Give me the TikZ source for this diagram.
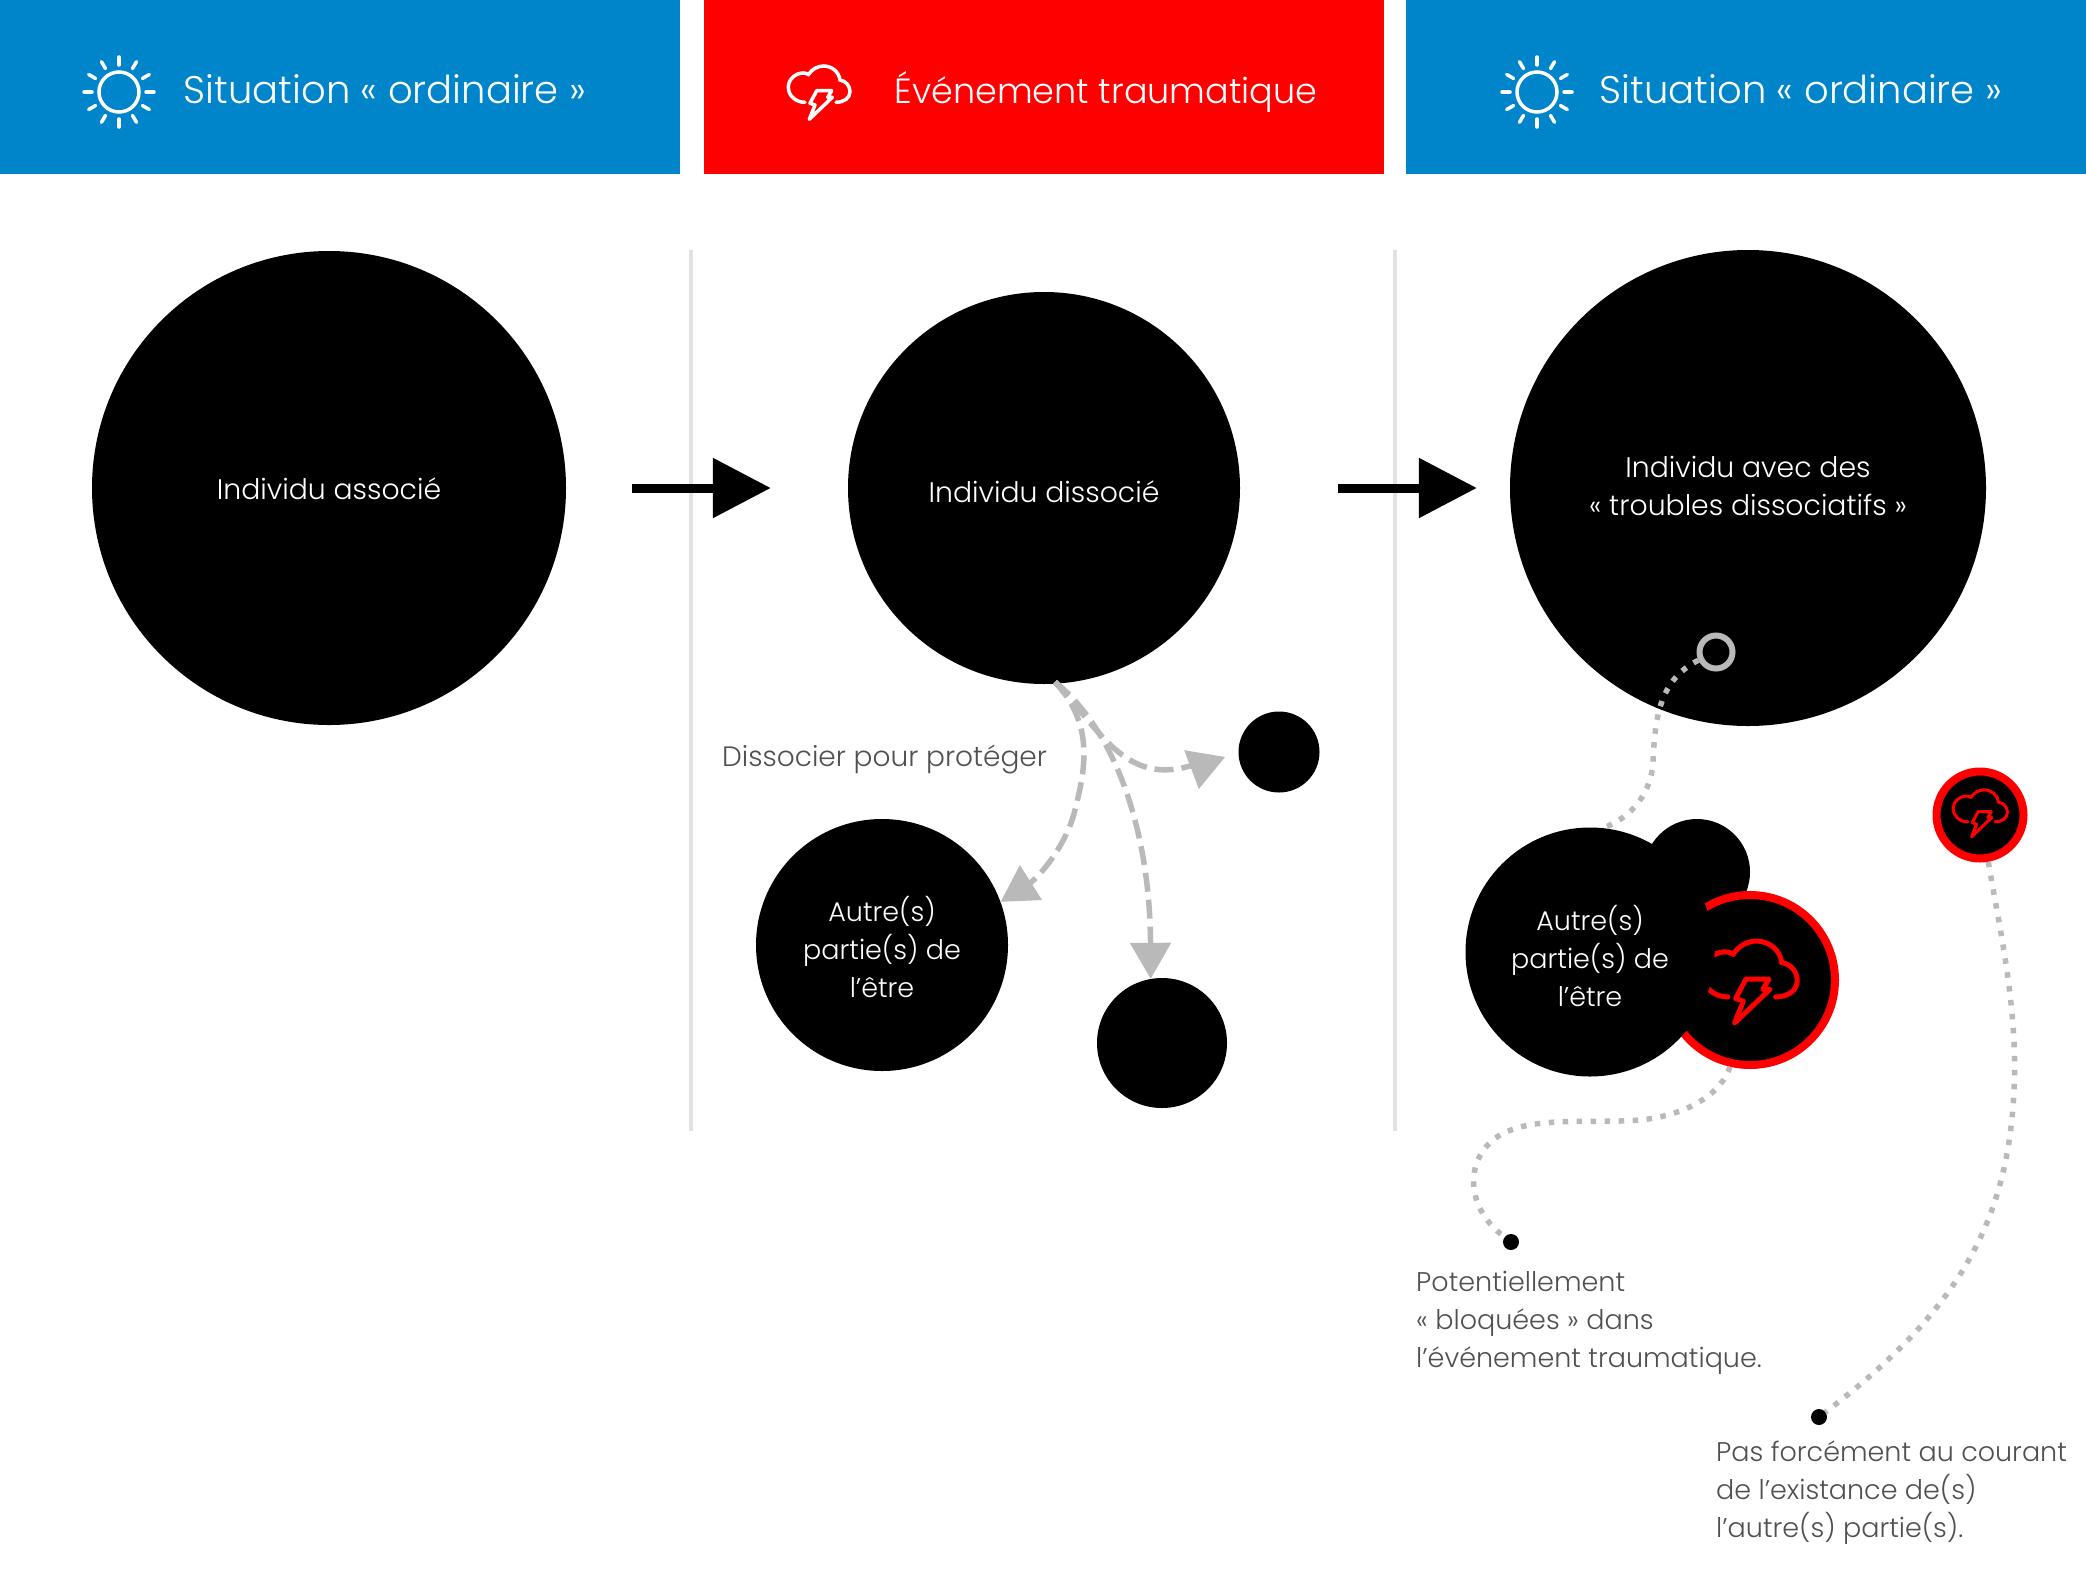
\documentclass[tikz,border=0pt]{standalone}
\usepackage{fontspec}
\setmainfont{Poppins Light}
\usetikzlibrary{positioning, arrows.meta}
\definecolor{headblue}{HTML}{0084CA}
\definecolor{softgray}{HTML}{B9B9B9}
\definecolor{rulegray}{HTML}{E2E2E2}
\definecolor{textgray}{HTML}{505050}

\begin{document}
\begin{tikzpicture}[
    x=1pt, y=-1pt,
    header/.style={
        rectangle,
        anchor=north west,
        inner sep=0pt,
        minimum width=680pt,
        minimum height=174pt
    },
    headtext/.style={
        text=white,
        font=\fontsize{38.5}{46}\selectfont
    },
    disc/.style={
        circle,
        fill=black,
        inner sep=0pt,
        text=white,
        align=center,
        font=\fontsize{27}{38}\selectfont
    },
    disctext/.style={
        text=white,
        align=center,
        inner sep=0pt,
        font=\fontsize{28.3}{38}\selectfont
    },
    note/.style={
        text=textgray,
        align=left,
        anchor=west,
        inner sep=0pt,
        font=\fontsize{27}{38}\selectfont
    },
    divider/.style={
        rulegray,
        line width=4pt
    },
    bigarrow/.style={
        -{Triangle[length=58pt,width=58pt]},
        line width=9pt
    },
    dasharrow/.style={
        -{Triangle[length=36pt,width=40pt]},
        softgray,
        line width=5.5pt,
        dash pattern=on 19pt off 8pt
    },
    dotline/.style={
        softgray,
        line width=5.5pt,
        dash pattern=on 5.5pt off 8.5pt
    },
    dotend/.style={
        circle,
        fill=black,
        inner sep=0pt,
        minimum size=16pt
    },
    sun/.pic={
        \draw[line width=3.5pt] (0,0) circle (20pt);
        \foreach \a in {0,30,...,330}
            \draw[line width=3.5pt, line cap=round] (\a:27) -- (\a:35);
    },
    storm/.pic={
        \draw[line cap=round] (-15,12.3) .. controls (-24,12.3) and (-31.7,6) .. (-31.7,-3)
            .. controls (-31.7,-11) and (-24,-17) .. (-17,-17)
            .. controls (-15,-17) and (-13,-16.5) .. (-11.5,-15.5)
            .. controls (-8,-21) and (-2,-24) .. (3.5,-24)
            .. controls (12,-24) and (19,-18) .. (20,-10)
            .. controls (26,-9) and (30,-4) .. (30,1.7)
            .. controls (30,8) and (24,12.3) .. (16,12.3);
        \draw[line join=round] (-3.3,0.7) -- (11.7,0.7) -- (7.7,7.3) -- (12.3,7.3)
            -- (-10.7,29.3) -- (-5,15) -- (-10,13.3) -- cycle;
    }
]
\useasboundingbox (0,0) rectangle (2086,1580);

% banners
\node[header, fill=headblue] (headleft) at (0,0) {};
\node[header, fill=red] (headmid) at (704,0) {};
\node[header, fill=headblue] (headright) at (1406,0) {};

\node[headtext] (titleleft) at (385,89) {Situation « ordinaire »};
\node[headtext, font=\fontsize{35}{42}\selectfont] (titlemid) at (1106,92) {Événement traumatique};
\node[headtext] (titleright) at (1801,89) {Situation « ordinaire »};

\pic[white] at (119,92) {sun};
\pic[white] at (1537,92) {sun};
\pic[white, line width=3.5pt] at (820,90) {storm};

% column rules
\coordinate (ruleatop) at (691,250);
\coordinate (ruleabot) at (691,1131);
\coordinate (rulebtop) at (1395,250);
\coordinate (rulebbot) at (1395,1131);
\draw[divider] (ruleatop) -- (ruleabot);
\draw[divider] (rulebtop) -- (rulebbot);

% main discs
\node[disc, minimum size=474pt] (assoc) at (329,488) {};
\node[disc, minimum size=392pt] (dissoc) at (1044,488) {};
\node[disc, minimum size=476pt] (troubled) at (1748,488) {};

\node[disctext] (assoclabel) at (329,489) {Individu associé};
\node[disctext] (dissoclabel) at (1044,492) {Individu dissocié};
\node[disctext] (troubledlabel) at (1748,486) {Individu avec des\\« troubles dissociatifs »};

\draw[bigarrow, shorten <=66pt, shorten >=77pt] (assoc) -- (dissoc);
\draw[bigarrow, shorten <=98pt, shorten >=33pt] (dissoc) -- (troubled);

% parts during the event
\node[disc, minimum size=252pt] (part) at (882,945) {};
\node[disc, minimum size=81pt] (partsmall) at (1279,752) {};
\node[disc, minimum size=130pt] (partmid) at (1162,1043) {};

\node[disc, fill=none] (partlabel) at (882,947) {Autre(s)\\partie(s) de\\l’être};
\node[note, font=\fontsize{28}{38}\selectfont] (protect) at (722,759) {Dissocier pour protéger};

\coordinate (split) at (1055,682);
\draw[dasharrow] (split) .. controls (1095,725) and (1085,770) .. (1075,810)
    .. controls (1065,850) and (1035,880) .. (part.20);
\draw[dasharrow, shorten >=14pt] (split) .. controls (1100,730) and (1125,785) .. (1190,766)
    .. controls (1205,763) and (1225,757) .. (partsmall.west);
\draw[dasharrow] (split) .. controls (1115,730) and (1150,830) .. (partmid.100);

% parts after the event
\node[disc, minimum size=106pt] (partblob) at (1697,872) {};
\node[disc, draw=red, line width=8pt, minimum size=170pt] (trauma) at (1750,980) {};
\pic[red, line width=5pt, scale=1.54] at (1751,978) {storm};
\node[disc, minimum size=249pt] (parttwo) at (1590,952) {};
\node[disc, fill=none] (parttwolabel) at (1590,956) {Autre(s)\\partie(s) de\\l’être};

\node[disc, draw=red, line width=8pt, minimum size=87pt] (mini) at (1980,815) {};
\pic[red, line width=3pt, scale=0.88] at (1981,811) {storm};

\node[circle, draw=softgray, line width=6pt, inner sep=0pt, minimum size=33pt] (ring) at (1716,652) {};

\node[dotend] (dotleft) at (1511,1242) {};
\node[dotend] (dotright) at (1819,1417) {};

\draw[dotline] (ring.205) .. controls (1660,680) and (1655,715) .. (1653,763)
    .. controls (1650,800) and (1625,820) .. (parttwo.84);
\draw[dotline] (trauma.257) .. controls (1722,1092) and (1690,1115) .. (1640,1120)
    .. controls (1590,1124) and (1530,1115) .. (1497,1137)
    .. controls (1467,1157) and (1462,1205) .. (dotleft);
\draw[dotline] (mini.280) .. controls (2000,930) and (2018,1010) .. (2014,1090)
    .. controls (2008,1220) and (1960,1310) .. (dotright);

% captions
\node[note] (blocked) at (1416,1323) {Potentiellement\\« bloquées » dans\\l’événement traumatique.};
\node[note] (unaware) at (1716,1493) {Pas forcément au courant\\de l’existance de(s)\\l’autre(s) partie(s).};

\end{tikzpicture}
\end{document}
